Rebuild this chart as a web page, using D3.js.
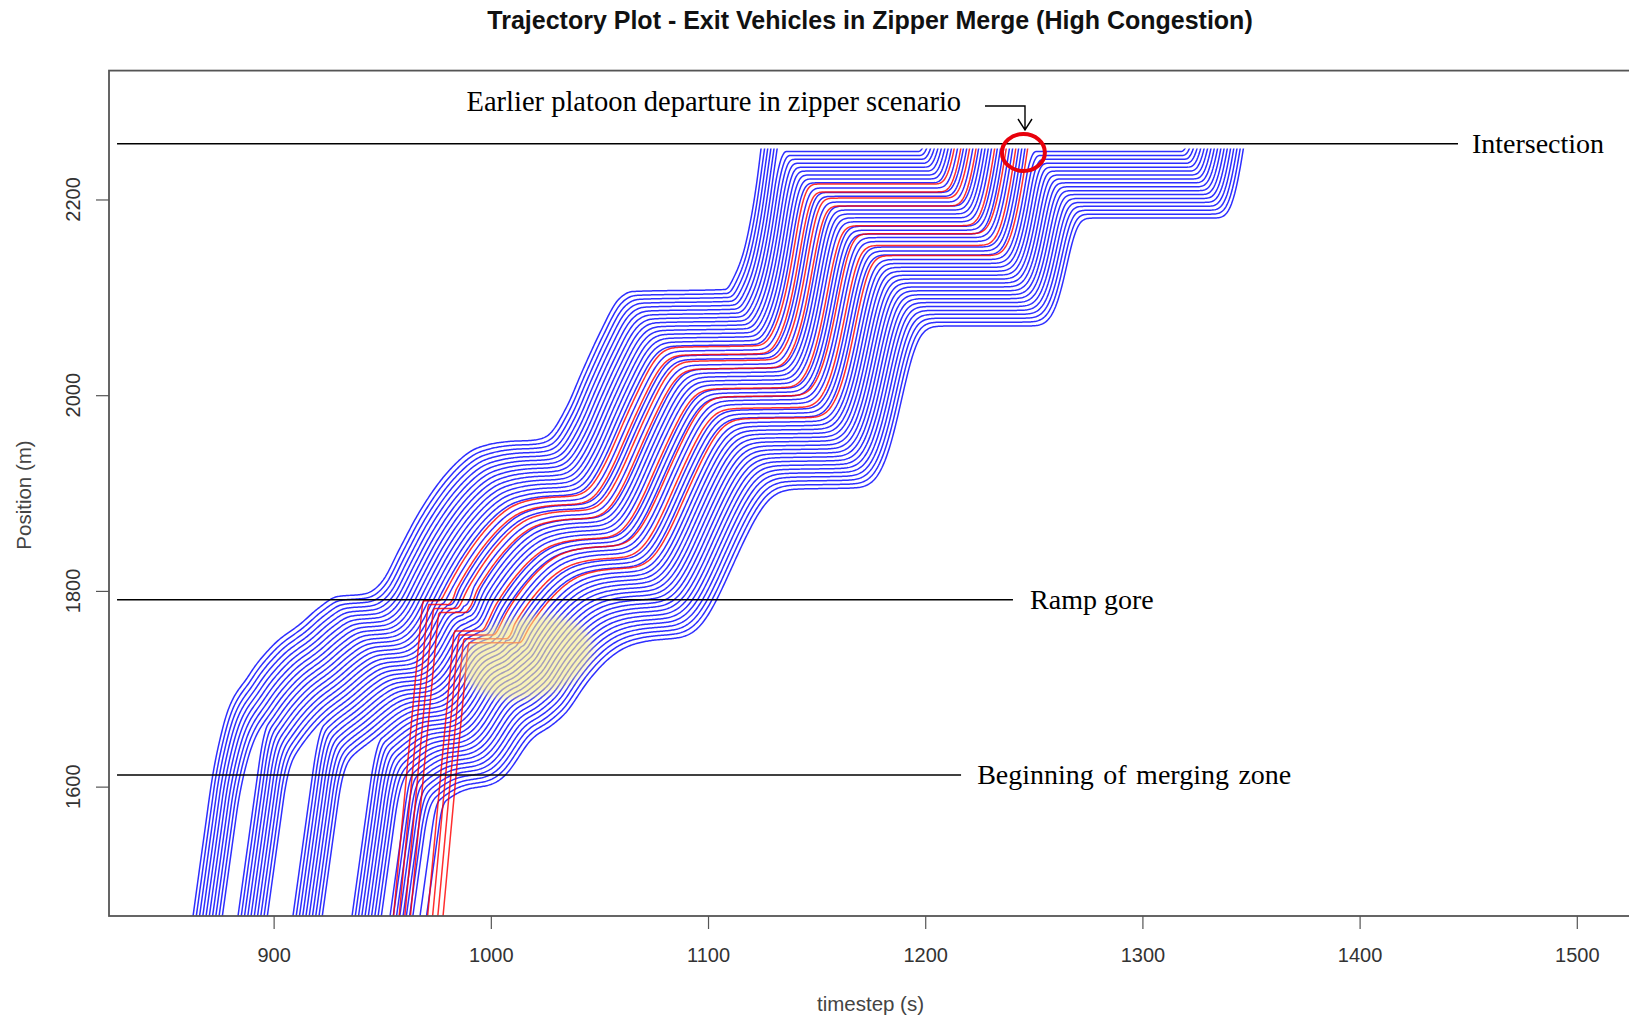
<!DOCTYPE html>
<html>
<head>
<meta charset="utf-8">
<script src="https://cdn.jsdelivr.net/npm/d3@7"></script>
<style>
  html, body { margin: 0; padding: 0; background: #fff; }
  svg { display: block; }
</style>
</head>
<body>
<svg id="chart" width="1629" height="1020"></svg>
<script>
// ---------------- chart data ----------------
const chartTitle = "Trajectory Plot - Exit Vehicles in Zipper Merge (High Congestion)";
const xLabel = "timestep (s)";
const yLabel = "Position (m)";
const xTicks = [900, 1000, 1100, 1200, 1300, 1400, 1500];
const yTicks = [1600, 1800, 2000, 2200];

// first exiting vehicle: time (s) and position (m) along the ramp
const leadTime = [850.0, 862.9, 868.0, 872.0, 876.7, 888.7, 900.0, 912.7, 921.0, 929.0, 942.0, 950.4, 958.0,
  965.9, 981.2, 991.8, 998.1, 1007.3, 1019.4, 1025.7, 1034.9, 1042.4, 1050.3, 1058.5, 1065.7,
  1107.8, 1112.0, 1118.1, 1123.2, 1124.3, 1130.0, 1180.0];
const leadPos = [1262, 1467.8, 1550, 1612, 1661, 1714, 1745, 1767, 1783, 1794, 1797, 1811, 1843,
  1876, 1924, 1944, 1949, 1952.5, 1954, 1958, 1988, 2026, 2064, 2097, 2106,
  2108, 2121, 2162, 2230, 2250, 2350, 3150];

// times (s) at which the other vehicles enter the plotted section (1468 m)
const mainlineEntry = [862.9, 864.4, 865.9, 867.4, 868.9, 870.4, 871.9, 873.4, 874.9, 876.4,
  883.6, 885.1, 886.6, 888.1, 889.6, 891.1, 892.6, 894.1, 895.6, 897.1,
  908.9, 910.4, 911.9, 913.4, 914.9, 916.4, 917.9, 919.4, 920.9, 922.4,
  936.1, 937.6, 939.1, 940.6, 942.1, 943.6, 945.1, 946.6, 948.1, 949.6,
  953.6, 955.1, 956.6, 958.1, 959.6, 961.1, 962.6, 964.1,
  967.4, 970.4];
const rampEntry = [955.2, 957.8, 960.4, 963.0, 970.9, 973.2, 975.6, 978.0];
const rampHold = [1790, 1786, 1782, 1778, 1759, 1755, 1751, 1747];   // waiting position (m)
const rampMergeTime = [976, 980, 984, 988, 995, 1001, 1007, 1013];    // zipper turn (s)

// signal red intervals at the intersection (s)
const redStart = [1131, 1247];
const redEnd = [1197, 1318];

// reference lines
const refPos = [2257, 1791, 1612];
const refLabel = ["Intersection", "Ramp gore", "Beginning of merging zone"];

// ---------------- layout ----------------
const plot = { left: 109, top: 70.6, right: 1645, bottom: 916 };
const x = d3.scaleLinear().domain([824.2, 1531.4]).range([plot.left, plot.right]);
const y = d3.scaleLinear().domain([1467.8, 2331.7]).range([plot.bottom, plot.top]);

const svg = d3.select("#chart");
const SANS = "'Liberation Sans', Arial, sans-serif";
const SERIF = "'Liberation Serif', 'Times New Roman', serif";

// ---------------- vehicle movement ----------------
// monotone cubic evaluation of the lead vehicle's path
function monotone(tArr, pArr) {
  const n = tArr.length, h = [], d = [], m = new Array(n);
  for (let i = 0; i < n - 1; i++) { h.push(tArr[i + 1] - tArr[i]); d.push((pArr[i + 1] - pArr[i]) / h[i]); }
  m[0] = d[0]; m[n - 1] = d[n - 2];
  for (let i = 1; i < n - 1; i++) {
    const s0 = d[i - 1], s1 = d[i], p = (s0 * h[i] + s1 * h[i - 1]) / (h[i - 1] + h[i]);
    m[i] = (Math.sign(s0) + Math.sign(s1)) * Math.min(Math.abs(s0), Math.abs(s1), 0.5 * Math.abs(p)) || 0;
  }
  return t => {
    if (t <= tArr[0]) return pArr[0] + d[0] * (t - tArr[0]);
    if (t >= tArr[n - 1]) return pArr[n - 1] + d[n - 2] * (t - tArr[n - 1]);
    let i = 0; while (t > tArr[i + 1]) i++;
    const u = (t - tArr[i]) / h[i], u2 = u * u, u3 = u2 * u;
    return (2 * u3 - 3 * u2 + 1) * pArr[i] + (u3 - 2 * u2 + u) * h[i] * m[i]
      + (-2 * u3 + 3 * u2) * pArr[i + 1] + (u3 - u2) * h[i] * m[i + 1];
  };
}
const leadAt = monotone(leadTime, leadPos);

const DT = 0.1, T0 = 840, T1 = 1360, NSTEP = Math.round((T1 - T0) / DT);
const GAP = 4.0, ACC = 2.0, STOP_LINE = 2250, ENTRY_POS = 1467.8;
const LAG = 12;     // reaction lag in steps (1.2 s)
const HALF = 11;    // half window (steps) over which a driver reads the vehicle ahead

const vehicles = [{ lane: "main", color: "blue", entry: leadTime[1], vmax: 16, dec: 2.5, lead: null, sig: [] }];
mainlineEntry.slice(1).forEach(e => vehicles.push({ lane: "main", color: "blue", entry: e, vmax: 16, dec: 2.5, sig: [] }));
rampEntry.forEach((e, k) => vehicles.push({ lane: "ramp", color: "red", entry: e, vmax: 24, dec: 25,
  hold: rampHold[k], mergeAt: rampMergeTime[k], merged: false, sig: [] }));
const N = vehicles.length;
const mainOrder = [];
vehicles.forEach((v, i) => { if (v.lane === "main") { if (i > 0) v.lead = mainOrder[mainOrder.length - 1]; mainOrder.push(i); } });

const xs = vehicles.map(() => new Float64Array(NSTEP + 1).fill(NaN));
const vs = vehicles.map(() => new Float64Array(NSTEP + 1).fill(NaN));
for (let s = 0; s <= NSTEP; s++) {
  const t = T0 + s * DT;
  if (t >= leadTime[0]) { xs[0][s] = leadAt(t); vs[0][s] = (leadAt(t + DT) - leadAt(t)) / DT; }
}

function seen(L, sl) {
  if (sl - HALF < 0) return xs[L][sl];
  let sum = 0;
  for (let k = sl - HALF; k <= sl + HALF; k++) {
    const p = xs[L][k];
    if (isNaN(p)) return xs[L][sl];
    sum += p;
  }
  return sum / (2 * HALF + 1);
}

for (let s = 0; s < NSTEP; s++) {
  const t = T0 + s * DT, tn = t + DT;
  // ramp vehicles slot into the main stream
  vehicles.forEach((veh, i) => {
    if (veh.lane === "ramp" && !veh.merged && t >= veh.mergeAt && !isNaN(xs[i][s])) {
      const xr = xs[i][s];
      let j = mainOrder.findIndex(k => !(xs[k][s] >= xr));
      if (j < 0) j = mainOrder.length;
      veh.lead = mainOrder[j - 1];
      if (j < mainOrder.length) vehicles[mainOrder[j]].lead = i;
      mainOrder.splice(j, 0, i);
      veh.merged = true; veh.dec = 2.5; veh.vmax = 16;
    }
  });
  for (let i = 1; i < N; i++) {
    const veh = vehicles[i];
    if (isNaN(xs[i][s])) {
      if (tn >= veh.entry - 4) { xs[i][s + 1] = ENTRY_POS - veh.vmax * (veh.entry - tn); vs[i][s + 1] = veh.vmax; }
      continue;
    }
    const xc = xs[i][s], vc = vs[i][s];
    const bounds = [];
    if (veh.lane === "main" || veh.merged) {
      const L = veh.lead, sl = s + 1 - LAG;
      if (L != null && sl >= 1 && !isNaN(xs[L][sl]) && !isNaN(xs[L][sl - 1])) {
        const b1 = seen(L, sl), b0 = seen(L, sl - 1);
        bounds.push([b1 - GAP, Math.max(0, (b1 - b0) / DT)]);
      }
    } else {
      bounds.push([veh.hold, 0]);
    }
    redStart.forEach((r0, k) => {
      if (tn >= r0 && tn < redEnd[k] && xc < STOP_LINE) {
        if (veh.sig[k] === undefined) veh.sig[k] = (STOP_LINE - xc) > vc * vc / (2 * 4.5) + 1;
        if (veh.sig[k]) bounds.push([STOP_LINE - 1, 0]);
      }
    });
    let vNew = Math.min(veh.vmax, vc + ACC * DT), cap = Infinity;
    bounds.forEach(([b, vb]) => {
      const g = b - xc;
      if (g >= 0) { vNew = Math.min(vNew, vb + Math.sqrt(2 * veh.dec * g)); cap = Math.min(cap, b); }
      else vNew = Math.min(vNew, vb);
    });
    let xNew = Math.min(xc + vNew * DT, cap);
    if (xNew < xc) xNew = xc;
    xs[i][s + 1] = xNew; vs[i][s + 1] = (xNew - xc) / DT;
  }
}

const tracks = vehicles.map((veh, i) => {
  const pts = [];
  for (let s = 0; s <= NSTEP; s += 5) {
    const p = xs[i][s];
    if (isNaN(p)) continue;
    if (p < ENTRY_POS - 40) continue;
    pts.push([T0 + s * DT, p]);
    if (p > STOP_LINE + 5) break;
  }
  return { color: veh.color, pts };
});

// ---------------- drawing ----------------
const defs = svg.append("defs");
defs.append("clipPath").attr("id", "plotClip")
  .append("rect").attr("x", plot.left).attr("y", y(2252))
  .attr("width", plot.right - plot.left).attr("height", y(ENTRY_POS) - y(2252));
defs.append("filter").attr("id", "soft")
  .attr("x", "-30%").attr("y", "-30%").attr("width", "160%").attr("height", "160%")
  .append("feGaussianBlur").attr("stdDeviation", 4);

const line = d3.line().x(d => x(d[0])).y(d => y(d[1]));
const gTracks = svg.append("g").attr("clip-path", "url(#plotClip)").attr("fill", "none");
["blue", "red"].forEach(c => {
  gTracks.selectAll(null).data(tracks.filter(d => d.color === c)).join("path")
    .attr("d", d => line(d.pts))
    .attr("stroke", c === "blue" ? "#0000ff" : "#ff0000")
    .attr("stroke-width", 1.5)
    .attr("stroke-opacity", 0.82);
});

// highlighted yielding area
const hiT = 1016.7, hiP = 1732.4;
svg.append("ellipse")
  .attr("cx", x(hiT)).attr("cy", y(hiP)).attr("rx", 66).attr("ry", 40)
  .attr("transform", `rotate(-12, ${x(hiT)}, ${y(hiP)})`)
  .attr("fill", "#f3e98a").attr("fill-opacity", 0.6).attr("filter", "url(#soft)");

// reference lines with labels
const refStart = 827.9, refEnd = [1445.3, 1240.4, 1216.5], refTextT = [1451.7, 1248.3, 1223.9];
refPos.forEach((p, k) => {
  svg.append("line").attr("x1", x(refStart)).attr("x2", x(refEnd[k]))
    .attr("y1", y(p)).attr("y2", y(p)).attr("stroke", "#000").attr("stroke-width", 1.5);
  svg.append("text").attr("x", x(refTextT[k])).attr("y", y(p) + 9.5)
    .attr("font-family", SERIF).attr("font-size", 28).attr("fill", "#000")
    .attr("word-spacing", k === 2 ? 2.5 : 0)
    .text(refLabel[k]);
});

// plot box
svg.append("rect").attr("x", plot.left).attr("y", plot.top)
  .attr("width", plot.right - plot.left).attr("height", plot.bottom - plot.top)
  .attr("fill", "none").attr("stroke", "#555").attr("stroke-width", 1.8);

// axes
const xAxis = svg.append("g").attr("transform", `translate(0,${plot.bottom})`)
  .call(d3.axisBottom(x).tickValues(xTicks).tickSize(13).tickPadding(19).tickFormat(d3.format("d")));
xAxis.select(".domain").remove();
xAxis.selectAll("line").attr("stroke", "#555").attr("stroke-width", 1.2);
xAxis.selectAll("text").attr("font-family", SANS).attr("font-size", 20).attr("fill", "#333");

const yAxis = svg.append("g").attr("transform", `translate(${plot.left},0)`)
  .call(d3.axisLeft(y).tickValues(yTicks).tickSize(13).tickFormat(""));
yAxis.select(".domain").remove();
yAxis.selectAll("line").attr("stroke", "#555").attr("stroke-width", 1.2);
svg.append("g").selectAll("text").data(yTicks).join("text")
  .attr("transform", d => `translate(80,${y(d)}) rotate(-90)`)
  .attr("text-anchor", "middle").attr("font-family", SANS).attr("font-size", 20).attr("fill", "#333")
  .text(d => d);

// titles
svg.append("text").attr("x", 870).attr("y", 29).attr("text-anchor", "middle")
  .attr("font-family", SANS).attr("font-weight", "bold").attr("font-size", 25).attr("fill", "#111")
  .text(chartTitle);
svg.append("text").attr("x", 870.5).attr("y", 1011).attr("text-anchor", "middle")
  .attr("font-family", SANS).attr("font-size", 20.5).attr("fill", "#444").text(xLabel);
svg.append("text").attr("transform", "translate(31,495) rotate(-90)").attr("text-anchor", "middle")
  .attr("font-family", SANS).attr("font-size", 20.5).attr("fill", "#444").text(yLabel);

// annotation for the early platoon departure
svg.append("text").attr("x", 466.5).attr("y", 111)
  .attr("font-family", SERIF).attr("font-size", 28.5).attr("fill", "#000")
  .text("Earlier platoon departure in zipper scenario");
svg.append("path").attr("d", "M985,106 H1025 V130 M1018,119 L1025,130 L1032,119")
  .attr("fill", "none").attr("stroke", "#000").attr("stroke-width", 1.4);
const markT = 1245.2, markP = 2248;
svg.append("ellipse").attr("cx", x(markT)).attr("cy", y(markP)).attr("rx", 21.5).attr("ry", 18.5)
  .attr("fill", "none").attr("stroke", "#e8000b").attr("stroke-width", 4);
</script>
</body>
</html>
